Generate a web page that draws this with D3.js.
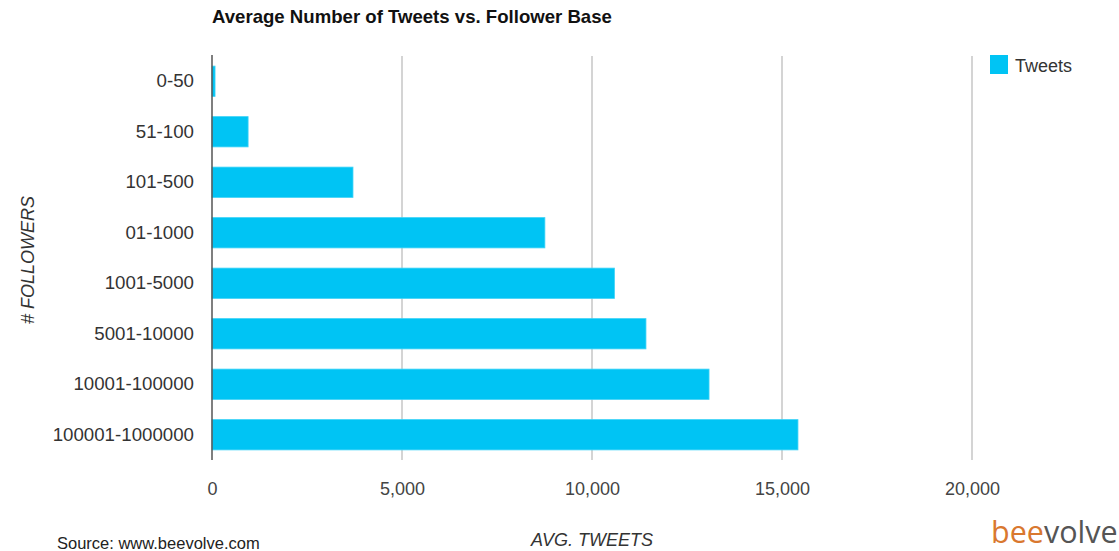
<!DOCTYPE html>
<html>
<head>
<meta charset="utf-8">
<script src="https://cdn.jsdelivr.net/npm/d3@7"></script>
<style>
  html, body { margin: 0; padding: 0; background: #fff; }
  svg { display: block; font-family: "Liberation Sans", Arial, sans-serif; }
</style>
</head>
<body>
<svg id="chart" width="1119" height="551"></svg>
<script>
const categories = ["0-50", "51-100", "101-500", "01-1000", "1001-5000", "5001-10000", "10001-100000", "100001-1000000"];
const tweets = [80, 950, 3710, 8760, 10590, 11420, 13080, 15420];
const xTicks = [0, 5000, 10000, 15000, 20000];
const seriesName = "Tweets";

const data = categories.map((c, i) => ({ cat: c, val: tweets[i] }));

const svg = d3.select("#chart");
const plotLeft = 212, plotRight = 972, plotTop = 56, plotBottom = 460;
const x = d3.scaleLinear().domain([0, 20000]).range([plotLeft, plotRight]);
const y = d3.scaleBand().domain(categories).range([plotTop, plotBottom]).paddingInner(0.4).paddingOuter(0.2);
const barColor = "#00c4f4";

// gridlines
svg.append("g").selectAll("line").data(xTicks.slice(1)).join("line")
  .attr("x1", d => x(d)).attr("x2", d => x(d))
  .attr("y1", plotTop).attr("y2", plotBottom)
  .attr("stroke", "#d4d4d4").attr("stroke-width", 2);

// bars
svg.append("g").selectAll("rect").data(data).join("rect")
  .attr("x", x(0)).attr("y", d => y(d.cat))
  .attr("width", d => x(d.val) - x(0))
  .attr("height", y.bandwidth())
  .attr("fill", barColor)
  .attr("stroke", "#3fd3f7").attr("stroke-width", 0.8);

// x axis
const xAxis = d3.axisBottom(x).tickValues(xTicks).tickFormat(d3.format(",")).tickSize(0).tickPadding(22);
const gx = svg.append("g").attr("transform", `translate(0,${plotBottom})`).call(xAxis);
gx.select(".domain").remove();
gx.selectAll("text").attr("font-size", 18).attr("fill", "#444").attr("font-family", "Liberation Sans, Arial, sans-serif");

// y axis
const yAxis = d3.axisLeft(y).tickSize(0).tickPadding(18);
const gy = svg.append("g").attr("transform", `translate(${plotLeft},0)`).call(yAxis);
gy.select(".domain").remove();
gy.selectAll("text").attr("font-size", 18.7).attr("fill", "#333").attr("font-family", "Liberation Sans, Arial, sans-serif");

// vertical baseline
svg.append("line").attr("x1", x(0)).attr("x2", x(0)).attr("y1", plotTop - 1).attr("y2", plotBottom)
  .attr("stroke", "#555").attr("stroke-width", 1.5);

// title
svg.append("text").attr("x", 212).attr("y", 23)
  .attr("font-size", 18.6).attr("font-weight", "bold").attr("fill", "#111")
  .text("Average Number of Tweets vs. Follower Base");

// legend
svg.append("rect").attr("x", 990).attr("y", 55).attr("width", 18).attr("height", 19).attr("fill", barColor);
svg.append("text").attr("x", 1015).attr("y", 72).attr("font-size", 18).attr("fill", "#333").text(seriesName);

// axis titles
svg.append("text").attr("x", 592).attr("y", 546).attr("text-anchor", "middle")
  .attr("font-size", 18).attr("font-style", "italic").attr("fill", "#333").text("AVG. TWEETS");
svg.append("text").attr("transform", "translate(34,260) rotate(-90)").attr("text-anchor", "middle")
  .attr("font-size", 18).attr("font-style", "italic").attr("fill", "#333").text("# FOLLOWERS");

// source
svg.append("text").attr("x", 57).attr("y", 549).attr("font-size", 16.5).attr("fill", "#222")
  .text("Source: www.beevolve.com");

// logo
const logo = svg.append("text").attr("x", 991).attr("y", 543).attr("font-size", 30.5)
  .attr("font-family", "Open Sans, sans-serif");
logo.append("tspan").attr("fill", "#d9782f").text("bee");
logo.append("tspan").attr("fill", "#555").text("volve");
</script>
</body>
</html>
